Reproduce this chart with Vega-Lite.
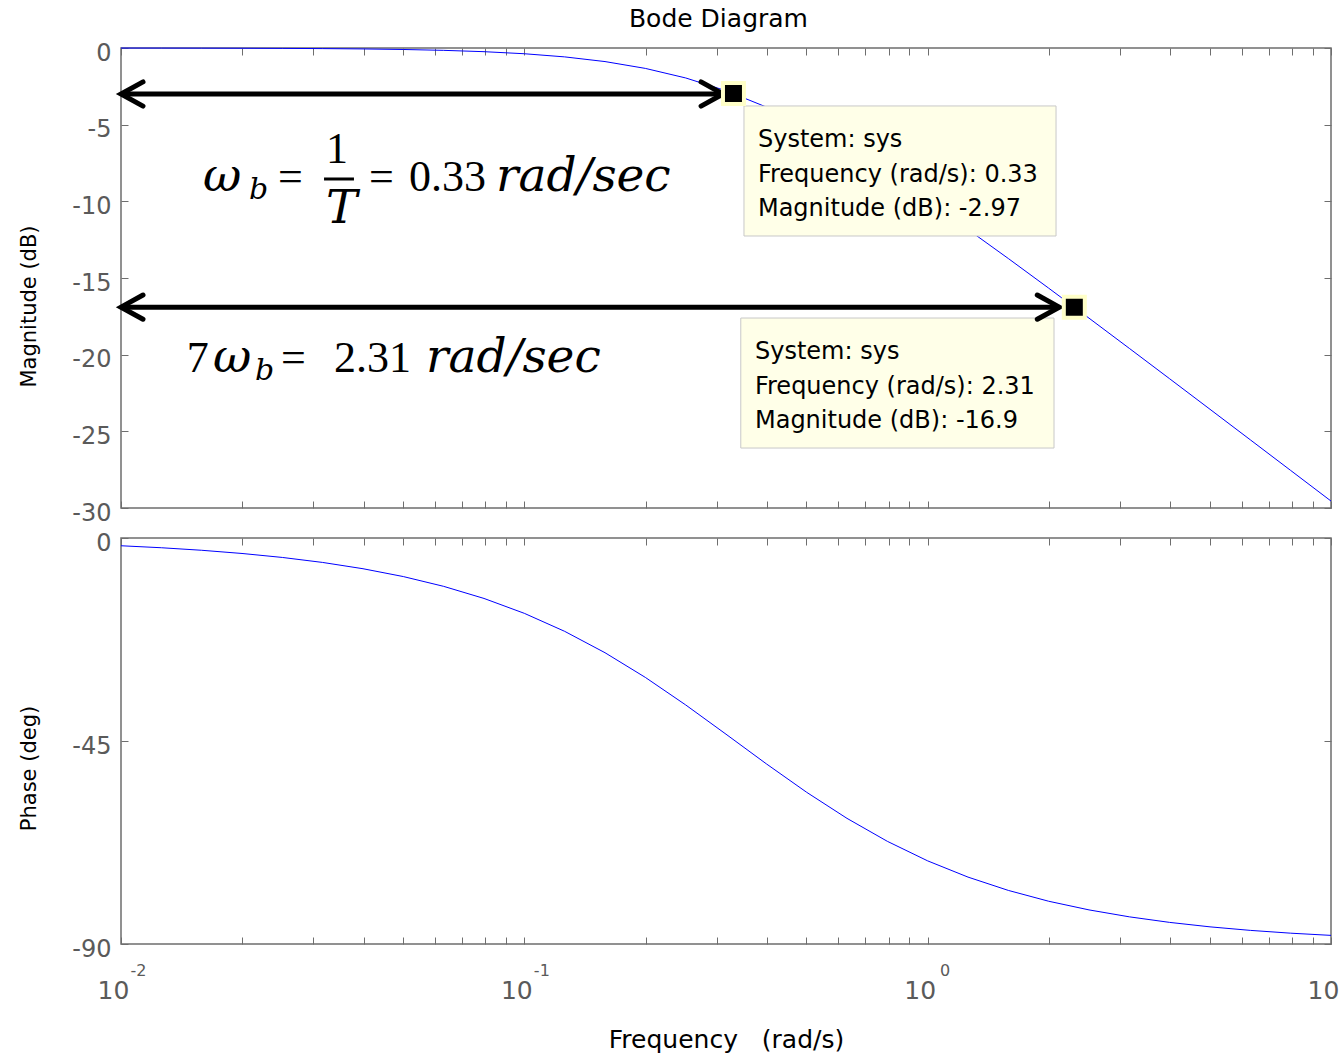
{
  "$schema": "https://vega.github.io/schema/vega-lite/v6.json",
  "background": "white",
  "padding": {"left": 17, "top": 7, "right": 0, "bottom": 0},
  "bounds": "flush",
  "spacing": 30,
  "title": {"text": "Bode Diagram", "fontSize": 25, "fontWeight": "normal", "font": "DejaVu Sans", "color": "#000000", "anchor": "middle", "offset": 8, "dx": 40},
  "config": {
    "font": "DejaVu Sans",
    "view": {"stroke": "#6e6e6e", "strokeWidth": 1.5},
    "axis": {"domain": false, "grid": false, "tickColor": "#6e6e6e", "tickSize": -7, "labelColor": "#5a5a5a", "labelFont": "DejaVu Sans", "labelFontSize": 24, "titleFont": "DejaVu Sans", "titleFontSize": 21, "titleFontWeight": "normal", "titleColor": "#000000", "labelFlush": false, "labelOverlap": false, "labelBound": false}
  },
  "datasets": {
    "bode": [
      {"w": 0.01, "mag": -0.004, "phase": -1.72},
      {"w": 0.012589, "mag": -0.006, "phase": -2.16},
      {"w": 0.015849, "mag": -0.010, "phase": -2.72},
      {"w": 0.019953, "mag": -0.016, "phase": -3.43},
      {"w": 0.025119, "mag": -0.025, "phase": -4.31},
      {"w": 0.031623, "mag": -0.039, "phase": -5.42},
      {"w": 0.039811, "mag": -0.062, "phase": -6.81},
      {"w": 0.050119, "mag": -0.097, "phase": -8.55},
      {"w": 0.063096, "mag": -0.153, "phase": -10.72},
      {"w": 0.079433, "mag": -0.240, "phase": -13.40},
      {"w": 0.1, "mag": -0.374, "phase": -16.70},
      {"w": 0.125893, "mag": -0.579, "phase": -20.69},
      {"w": 0.158489, "mag": -0.885, "phase": -25.43},
      {"w": 0.199526, "mag": -1.330, "phase": -30.90},
      {"w": 0.251189, "mag": -1.953, "phase": -37.00},
      {"w": 0.316228, "mag": -2.788, "phase": -43.49},
      {"w": 0.398107, "mag": -3.850, "phase": -50.06},
      {"w": 0.501187, "mag": -5.133, "phase": -56.37},
      {"w": 0.630957, "mag": -6.612, "phase": -62.15},
      {"w": 0.794328, "mag": -8.247, "phase": -67.24},
      {"w": 1, "mag": -10.0, "phase": -71.57},
      {"w": 1.258925, "mag": -11.837, "phase": -75.17},
      {"w": 1.584893, "mag": -13.730, "phase": -78.12},
      {"w": 1.995262, "mag": -15.662, "phase": -80.52},
      {"w": 2.511886, "mag": -17.618, "phase": -82.44},
      {"w": 3.162278, "mag": -19.590, "phase": -83.98},
      {"w": 3.981072, "mag": -21.572, "phase": -85.21},
      {"w": 5.011872, "mag": -23.562, "phase": -86.20},
      {"w": 6.309573, "mag": -25.555, "phase": -86.98},
      {"w": 7.943282, "mag": -27.550, "phase": -87.60},
      {"w": 10, "mag": -29.547, "phase": -88.09}
    ],
    "boxes": [
      {"x1": 0.3504, "x2": 2.081, "y1": -3.78, "y2": -12.26},
      {"x1": 0.3441, "x2": 2.057, "y1": -17.61, "y2": -26.09}
    ],
    "notes": [
      {"w": 0.3795, "db": -6.0, "t": "System: sys"},
      {"w": 0.3795, "db": -8.28, "t": "Frequency (rad/s): 0.33"},
      {"w": 0.3795, "db": -10.5, "t": "Magnitude (dB): -2.97"},
      {"w": 0.3731, "db": -19.83, "t": "System: sys"},
      {"w": 0.3731, "db": -22.11, "t": "Frequency (rad/s): 2.31"},
      {"w": 0.3731, "db": -24.33, "t": "Magnitude (dB): -16.9"}
    ],
    "markers": [
      {"w": 0.33, "db": -2.97},
      {"w": 2.31, "db": -16.9}
    ],
    "arrows": [
      {"x1": 0.01, "x2": 0.311, "y": -3.0},
      {"x1": 0.01, "x2": 2.12, "y": -16.9}
    ],
    "upright": [
      {"w": 0.02451, "db": -9.326, "t": "="},
      {"w": 0.03224, "db": -7.5, "t": "1"},
      {"w": 0.04119, "db": -9.326, "t": "="},
      {"w": 0.05177, "db": -9.326, "t": "0.33"},
      {"w": 0.01455, "db": -21.13, "t": "7"},
      {"w": 0.02492, "db": -21.13, "t": "="},
      {"w": 0.03374, "db": -21.13, "t": "2.31"}
    ],
    "italic": [
      {"w": 0.01597, "db": -9.326, "t": "ω"},
      {"w": 0.03224, "db": -11.413, "t": "T"},
      {"w": 0.08506, "db": -9.326, "t": "rad/sec"},
      {"w": 0.01691, "db": -21.13, "t": "ω"},
      {"w": 0.05706, "db": -21.13, "t": "rad/sec"}
    ],
    "subscript": [
      {"w": 0.02077, "db": -9.848, "t": "b"},
      {"w": 0.0215, "db": -21.652, "t": "b"}
    ],
    "fracbar": [
      {"x1": 0.03187, "x2": 0.03781, "y": -8.543}
    ]
  },
  "vconcat": [
    {
      "width": 1210,
      "height": 460,
      "layer": [
        {
          "data": {"name": "bode"},
          "mark": {"type": "line", "color": "#0000ff", "strokeWidth": 1},
          "encoding": {
            "x": {"field": "w", "type": "quantitative", "scale": {"type": "log", "domain": [0.01, 10], "nice": false},
                  "axis": {"orient": "bottom", "values": [0.01,0.02,0.03,0.04,0.05,0.06,0.07,0.08,0.09,0.1,0.2,0.3,0.4,0.5,0.6,0.7,0.8,0.9,1,2,3,4,5,6,7,8,9,10], "labels": false, "title": null}},
            "y": {"field": "mag", "type": "quantitative", "scale": {"domain": [-30, 0], "nice": false, "zero": false},
                  "axis": {"orient": "left", "values": [-30,-25,-20,-15,-10,-5,0], "labelExpr": "datum.value + ''", "labelPadding": 17, "labelOffset": 5, "title": "Magnitude (dB)", "titleX": -92, "titleY": 258, "titleAngle": -90, "titleBaseline": "middle", "titleAlign": "center"}}
          }
        },
        {
          "data": {"name": "bode"},
          "mark": {"type": "line", "opacity": 0},
          "encoding": {
            "x": {"field": "w", "type": "quantitative", "axis": {"orient": "top", "values": [0.01,0.02,0.03,0.04,0.05,0.06,0.07,0.08,0.09,0.1,0.2,0.3,0.4,0.5,0.6,0.7,0.8,0.9,1,2,3,4,5,6,7,8,9,10], "labels": false, "title": null}},
            "y": {"field": "mag", "type": "quantitative", "axis": {"orient": "right", "values": [-30,-25,-20,-15,-10,-5,0], "labels": false, "title": null}}
          }
        },
        {
          "data": {"name": "boxes"},
          "mark": {"type": "rect", "fill": "#ffffe8", "stroke": "#c8c8c8", "strokeWidth": 1},
          "encoding": {
            "x": {"field": "x1", "type": "quantitative", "axis": null},
            "x2": {"field": "x2"},
            "y": {"field": "y1", "type": "quantitative", "axis": null},
            "y2": {"field": "y2"}
          }
        },
        {
          "data": {"name": "notes"},
          "mark": {"type": "text", "align": "left", "baseline": "middle", "font": "DejaVu Sans", "fontSize": 24, "color": "#000000"},
          "encoding": {
            "x": {"field": "w", "type": "quantitative", "axis": null},
            "y": {"field": "db", "type": "quantitative", "axis": null},
            "text": {"field": "t"}
          }
        },
        {
          "data": {"name": "arrows"},
          "mark": {"type": "rule", "color": "#000000", "strokeWidth": 5},
          "encoding": {
            "x": {"field": "x1", "type": "quantitative", "axis": null},
            "x2": {"field": "x2"},
            "y": {"field": "y", "type": "quantitative", "axis": null}
          }
        },
        {
          "data": {"name": "arrows"},
          "mark": {"type": "point", "shape": "M 2 -1.1 L 0 0 L 2 1.1", "filled": false, "color": "#000000", "strokeWidth": 5, "size": 484, "opacity": 1, "strokeJoin": "miter", "strokeCap": "round"},
          "encoding": {
            "x": {"field": "x1", "type": "quantitative", "axis": null},
            "y": {"field": "y", "type": "quantitative", "axis": null}
          }
        },
        {
          "data": {"name": "arrows"},
          "mark": {"type": "point", "shape": "M -2 -1.1 L 0 0 L -2 1.1", "filled": false, "color": "#000000", "strokeWidth": 5, "size": 484, "opacity": 1, "strokeJoin": "miter", "strokeCap": "round"},
          "encoding": {
            "x": {"field": "x2", "type": "quantitative", "axis": null},
            "y": {"field": "y", "type": "quantitative", "axis": null}
          }
        },
        {
          "data": {"name": "markers"},
          "mark": {"type": "square", "filled": true, "color": "#000000", "stroke": "#ffffc8", "strokeWidth": 4, "size": 441, "opacity": 1},
          "encoding": {
            "x": {"field": "w", "type": "quantitative", "axis": null},
            "y": {"field": "db", "type": "quantitative", "axis": null}
          }
        },
        {
          "data": {"name": "upright"},
          "mark": {"type": "text", "align": "left", "baseline": "alphabetic", "font": "Liberation Serif", "fontSize": 44, "color": "#000000"},
          "encoding": {
            "x": {"field": "w", "type": "quantitative", "axis": null},
            "y": {"field": "db", "type": "quantitative", "axis": null},
            "text": {"field": "t"}
          }
        },
        {
          "data": {"name": "italic"},
          "mark": {"type": "text", "align": "left", "baseline": "alphabetic", "font": "DejaVu Serif", "fontStyle": "italic", "fontSize": 47, "color": "#000000"},
          "encoding": {
            "x": {"field": "w", "type": "quantitative", "axis": null},
            "y": {"field": "db", "type": "quantitative", "axis": null},
            "text": {"field": "t"}
          }
        },
        {
          "data": {"name": "subscript"},
          "mark": {"type": "text", "align": "left", "baseline": "alphabetic", "font": "DejaVu Serif", "fontStyle": "italic", "fontSize": 30, "color": "#000000"},
          "encoding": {
            "x": {"field": "w", "type": "quantitative", "axis": null},
            "y": {"field": "db", "type": "quantitative", "axis": null},
            "text": {"field": "t"}
          }
        },
        {
          "data": {"name": "fracbar"},
          "mark": {"type": "rule", "color": "#000000", "strokeWidth": 3},
          "encoding": {
            "x": {"field": "x1", "type": "quantitative", "axis": null},
            "x2": {"field": "x2"},
            "y": {"field": "y", "type": "quantitative", "axis": null}
          }
        }
      ],
      "resolve": {"axis": {"x": "independent", "y": "independent"}}
    },
    {
      "width": 1210,
      "height": 406,
      "layer": [
        {
          "data": {"name": "bode"},
          "mark": {"type": "line", "color": "#0000ff", "strokeWidth": 1},
          "encoding": {
            "x": {"field": "w", "type": "quantitative", "scale": {"type": "log", "domain": [0.01, 10], "nice": false},
                  "axis": {"orient": "bottom", "values": [0.01,0.02,0.03,0.04,0.05,0.06,0.07,0.08,0.09,0.1,0.2,0.3,0.4,0.5,0.6,0.7,0.8,0.9,1,2,3,4,5,6,7,8,9,10],
                           "labelExpr": "(datum.value === 0.01 || datum.value === 0.1 || datum.value === 1 || datum.value === 10) ? '10' : ''",
                           "labelFontSize": 25, "labelPadding": 41, "labelOffset": -8,
                           "title": "Frequency\u00a0\u00a0\u00a0(rad/s)", "titleFontSize": 25, "titleX": 605, "titleY": 95, "titleBaseline": "middle", "titleAlign": "center"}},
            "y": {"field": "phase", "type": "quantitative", "scale": {"domain": [-90, 0], "nice": false, "zero": false},
                  "axis": {"orient": "left", "values": [-90,-45,0], "labelExpr": "datum.value + ''", "labelPadding": 17, "labelOffset": 5, "title": "Phase (deg)", "titleX": -92, "titleY": 230, "titleAngle": -90, "titleBaseline": "middle", "titleAlign": "center"}}
          }
        },
        {
          "data": {"name": "bode"},
          "mark": {"type": "line", "opacity": 0},
          "encoding": {
            "x": {"field": "w", "type": "quantitative", "axis": {"orient": "top", "values": [0.01,0.02,0.03,0.04,0.05,0.06,0.07,0.08,0.09,0.1,0.2,0.3,0.4,0.5,0.6,0.7,0.8,0.9,1,2,3,4,5,6,7,8,9,10], "labels": false, "title": null}},
            "y": {"field": "phase", "type": "quantitative", "axis": {"orient": "right", "values": [-90,-45,0], "labels": false, "title": null}}
          }
        },
        {
          "data": {"name": "bode"},
          "mark": {"type": "line", "opacity": 0},
          "encoding": {
            "x": {"field": "w", "type": "quantitative", "axis": {"orient": "bottom", "values": [0.01, 0.1, 1],
                  "labelExpr": "datum.value === 0.01 ? '-2' : (datum.value === 0.1 ? '-1' : '0')",
                  "ticks": false, "labelFontSize": 16, "labelPadding": 18, "labelOffset": 17, "title": null}}
          }
        }
      ],
      "resolve": {"axis": {"x": "independent", "y": "independent"}}
    }
  ]
}
